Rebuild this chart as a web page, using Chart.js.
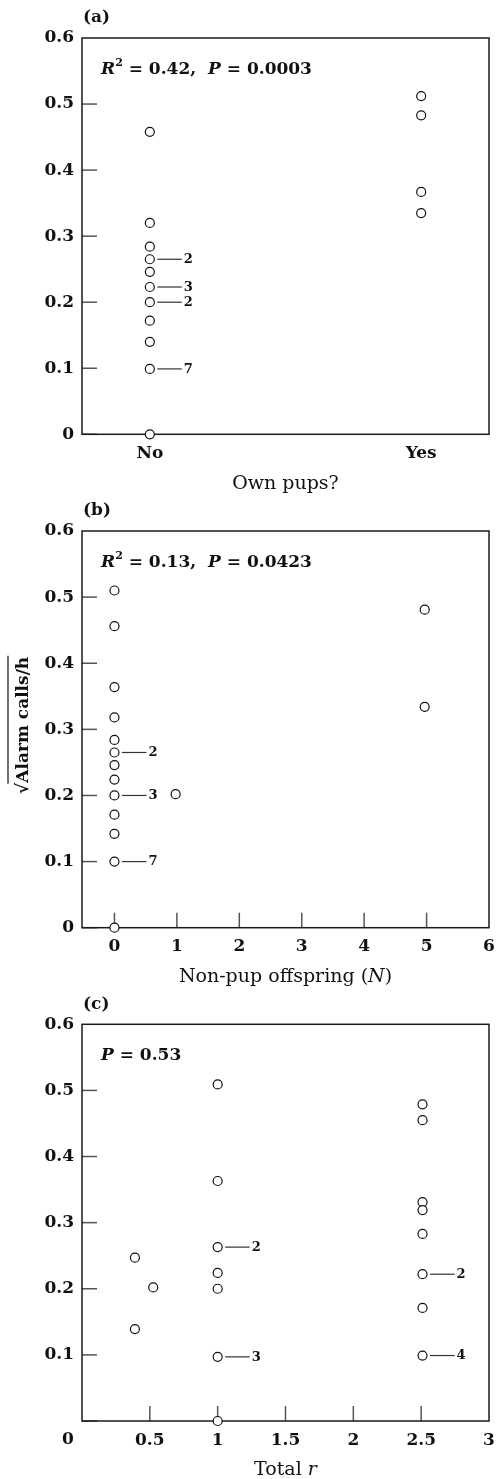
<!DOCTYPE html>
<html><head><meta charset="utf-8">
<script src="https://cdn.jsdelivr.net/npm/chart.js@4"></script>
<style>
body{margin:0;background:#fff;width:496px;height:1479px;overflow:hidden}
canvas{display:block}
</style>
</head><body>
<canvas id="ca" width="496" height="495"></canvas>
<canvas id="cb" width="496" height="495"></canvas>
<canvas id="cc" width="496" height="489"></canvas>
<script>
// ---------- data ----------
const yTickValues = [0, 0.1, 0.2, 0.3, 0.4, 0.5, 0.6];

// (a) Own pups?
const aCategories = ['No', 'Yes'];
const aNoValues  = [0.458, 0.320, 0.284, 0.265, 0.246, 0.223, 0.200, 0.172, 0.140, 0.099, 0];
const aYesValues = [0.512, 0.483, 0.367, 0.335];
const aCountX = [0, 0, 0, 0];
const aCountY = [0.265, 0.223, 0.200, 0.099];
const aCountN = [2, 3, 2, 7];

// (b) Non-pup offspring (N)
const bXValues = [0, 0, 0, 0, 0, 0, 0, 0, 0, 0, 0, 0, 0, 0.98, 4.97, 4.97];
const bYValues = [0.510, 0.456, 0.364, 0.318, 0.284, 0.265, 0.246, 0.224, 0.200, 0.171, 0.142, 0.100, 0, 0.202, 0.481, 0.334];
const bXTickValues = [0, 1, 2, 3, 4, 5, 6];
const bCountX = [0, 0, 0];
const bCountY = [0.265, 0.200, 0.100];
const bCountN = [2, 3, 7];

// (c) Total r
const cXValues = [0.39, 0.39, 0.525, 1, 1, 1, 1, 1, 1, 1, 2.51, 2.51, 2.51, 2.51, 2.51, 2.51, 2.51, 2.51];
const cYValues = [0.247, 0.139, 0.202, 0.509, 0.363, 0.263, 0.224, 0.200, 0.097, 0, 0.479, 0.455, 0.331, 0.319, 0.283, 0.222, 0.171, 0.099];
const cXTickValues = [0, 0.5, 1, 1.5, 2, 2.5, 3];
const cCountX = [1, 1, 2.51, 2.51];
const cCountY = [0.263, 0.097, 0.222, 0.099];
const cCountN = [2, 3, 2, 4];

// ---------- drawing ----------
const SERIF = "'DejaVu Serif', 'Liberation Serif', serif";
const fmt = v => String(Number(v.toFixed(2)));

function richWidth(ctx, segs) {
  let w = 0;
  for (const s of segs) { ctx.font = s.f; w += ctx.measureText(s.t).width; }
  return w;
}
function drawRich(ctx, segs, x, y, align) {
  let cx = align === 'center' ? x - richWidth(ctx, segs) / 2 : x;
  for (const s of segs) {
    ctx.font = s.f;
    ctx.fillText(s.t, cx, y + (s.dy || 0));
    cx += ctx.measureText(s.t).width;
  }
}

const deco = {
  id: 'deco',
  beforeDatasetsDraw(chart, args, o) {
    const ctx = chart.ctx, a = chart.chartArea, xs = chart.scales.x, ys = chart.scales.y;
    ctx.save();
    ctx.strokeStyle = '#555';
    ctx.lineWidth = 1.5;
    for (const v of o.yTickMarks) {
      const py = ys.getPixelForValue(v);
      ctx.beginPath(); ctx.moveTo(a.left, py); ctx.lineTo(a.left + 15, py); ctx.stroke();
    }
    for (const v of o.xTickMarks) {
      const px = xs.getPixelForValue(v);
      ctx.beginPath(); ctx.moveTo(px, a.bottom); ctx.lineTo(px, a.bottom - 15); ctx.stroke();
    }
    ctx.strokeStyle = '#1a1a1a';
    ctx.lineWidth = 1.5;
    ctx.strokeRect(a.left, a.top, a.right - a.left, a.bottom - a.top);
    ctx.restore();
  },
  afterDraw(chart, args, o) {
    const ctx = chart.ctx, a = chart.chartArea, xs = chart.scales.x, ys = chart.scales.y;
    ctx.save();
    ctx.fillStyle = '#111';
    // panel label
    ctx.textBaseline = 'middle';
    ctx.textAlign = 'left';
    ctx.font = 'bold 17px ' + SERIF;
    ctx.fillText(o.panel, a.left + 1, a.top - 20);
    // stats
    ctx.textBaseline = 'alphabetic';
    drawRich(ctx, o.stats, a.left + 19, a.top + 35.5, 'left');
    // x title
    ctx.textBaseline = 'middle';
    drawRich(ctx, o.xTitle, (a.left + a.right) / 2, a.bottom + 49.5, 'center');
    // count labels
    ctx.strokeStyle = '#333';
    ctx.lineWidth = 1.2;
    for (let i = 0; i < o.countX.length; i++) {
      const px = xs.getPixelForValue(o.countX[i]);
      const py = ys.getPixelForValue(o.countY[i]);
      ctx.beginPath(); ctx.moveTo(px + 7.5, py); ctx.lineTo(px + 32, py); ctx.stroke();
      ctx.font = 'bold 13px ' + SERIF;
      ctx.textAlign = 'center';
      ctx.fillText(String(o.countN[i]), px + 38.5, py + 0.5);
    }
    // extra x "0" label (panel c)
    if (o.zeroLabel) {
      ctx.font = 'bold 17px ' + SERIF;
      ctx.textAlign = 'center';
      ctx.fillText('0', xs.getPixelForValue(0) - 14, a.bottom + 19);
    }
    // y title (panel b)
    if (o.yTitle) {
      const main = 'Alarm calls/h';
      ctx.font = 'bold 17px ' + SERIF;
      const wr = ctx.measureText('\u221A').width;
      const wm = ctx.measureText(main).width;
      const total = wr + wm;
      const cy = (a.top + a.bottom) / 2 - 4;
      ctx.translate(24, cy);
      ctx.rotate(-Math.PI / 2);
      ctx.textAlign = 'left';
      ctx.textBaseline = 'middle';
      ctx.fillText('\u221A', -total / 2, 0);
      ctx.fillText(main, -total / 2 + wr, 0);
      ctx.strokeStyle = '#111';
      ctx.lineWidth = 1.2;
      ctx.beginPath();
      ctx.moveTo(-total / 2 + wr - 1, -16);
      ctx.lineTo(total / 2 + 1, -16);
      ctx.stroke();
    }
    ctx.restore();
  }
};

function makeChart(id, cfg) {
  return new Chart(document.getElementById(id), {
    type: 'scatter',
    data: { datasets: [{
      data: cfg.points,
      pointRadius: 4.5, pointHoverRadius: 4.5, pointBorderWidth: 1.2,
      pointBackgroundColor: '#fff', pointBorderColor: '#111',
      showLine: false, clip: false
    }]},
    options: {
      responsive: false, animation: false, events: [],
      layout: { padding: { top: cfg.plotTop, right: 7, left: 0, bottom: 0 } },
      plugins: { legend: { display: false }, tooltip: { enabled: false }, deco: cfg.deco },
      scales: {
        x: {
          type: 'linear', min: cfg.xMin, max: cfg.xMax,
          grid: { display: false, drawTicks: false }, border: { display: false },
          afterBuildTicks: s => { s.ticks = cfg.xTicks.map(v => ({ value: v })); },
          ticks: { callback: cfg.xLabel, font: { family: SERIF, size: 17, weight: 'bold' }, color: '#111', padding: 9, maxRotation: 0, autoSkip: false },
          afterFit: s => { s.height = cfg.H - cfg.plotBottom; s.paddingLeft = 0; s.paddingRight = 0; }
        },
        y: {
          type: 'linear', min: 0, max: 0.6,
          grid: { display: false, drawTicks: false }, border: { display: false },
          afterBuildTicks: s => { s.ticks = yTickValues.map(v => ({ value: v })); },
          ticks: { callback: cfg.yLabel, font: { family: SERIF, size: 17, weight: 'bold' }, color: '#111', padding: 8, autoSkip: false },
          afterFit: s => { s.width = 82; s.paddingTop = 0; s.paddingBottom = 0; }
        }
      }
    },
    plugins: [deco]
  });
}

const B = 'bold 17px ' + SERIF, BI = 'italic bold 17px ' + SERIF, SUP = 'bold 11px ' + SERIF;
const R = '19px ' + SERIF, RI = 'italic 19px ' + SERIF;

makeChart('ca', {
  H: 495, plotTop: 38, plotBottom: 434.3, xMin: -0.25, xMax: 1.25,
  xTicks: [0, 1], xLabel: v => aCategories[v], yLabel: v => fmt(v),
  points: aNoValues.map(y => ({ x: 0, y })).concat(aYesValues.map(y => ({ x: 1, y }))),
  deco: {
    panel: '(a)',
    stats: [{t:'R', f:BI}, {t:'2', f:SUP, dy:-8}, {t:' = 0.42,  ', f:B}, {t:'P', f:BI}, {t:' = 0.0003', f:B}],
    xTitle: [{t:'Own pups?', f:R}],
    yTickMarks: [0, 0.1, 0.2, 0.3, 0.4, 0.5], xTickMarks: [],
    countX: aCountX, countY: aCountY, countN: aCountN
  }
});

makeChart('cb', {
  H: 495, plotTop: 36, plotBottom: 432.7, xMin: -0.52, xMax: 6,
  xTicks: bXTickValues, xLabel: v => fmt(v), yLabel: v => fmt(v),
  points: bXValues.map((x, i) => ({ x, y: bYValues[i] })),
  deco: {
    panel: '(b)',
    stats: [{t:'R', f:BI}, {t:'2', f:SUP, dy:-8}, {t:' = 0.13,  ', f:B}, {t:'P', f:BI}, {t:' = 0.0423', f:B}],
    xTitle: [{t:'Non-pup offspring (', f:R}, {t:'N', f:RI}, {t:')', f:R}],
    yTitle: true,
    yTickMarks: [0, 0.1, 0.2, 0.3, 0.4, 0.5], xTickMarks: [0, 1, 2, 3, 4, 5],
    countX: bCountX, countY: bCountY, countN: bCountN
  }
});

makeChart('cc', {
  H: 489, plotTop: 34.3, plotBottom: 431, xMin: 0, xMax: 3,
  xTicks: cXTickValues, xLabel: v => (v === 0 ? '' : fmt(v)), yLabel: v => (v === 0 ? '' : fmt(v)),
  points: cXValues.map((x, i) => ({ x, y: cYValues[i] })),
  deco: {
    panel: '(c)',
    stats: [{t:'P', f:BI}, {t:' = 0.53', f:B}],
    xTitle: [{t:'Total ', f:R}, {t:'r', f:RI}],
    zeroLabel: true,
    yTickMarks: [0, 0.1, 0.2, 0.3, 0.4, 0.5], xTickMarks: [0.5, 1, 1.5, 2, 2.5],
    countX: cCountX, countY: cCountY, countN: cCountN
  }
});
</script>
</body></html>
